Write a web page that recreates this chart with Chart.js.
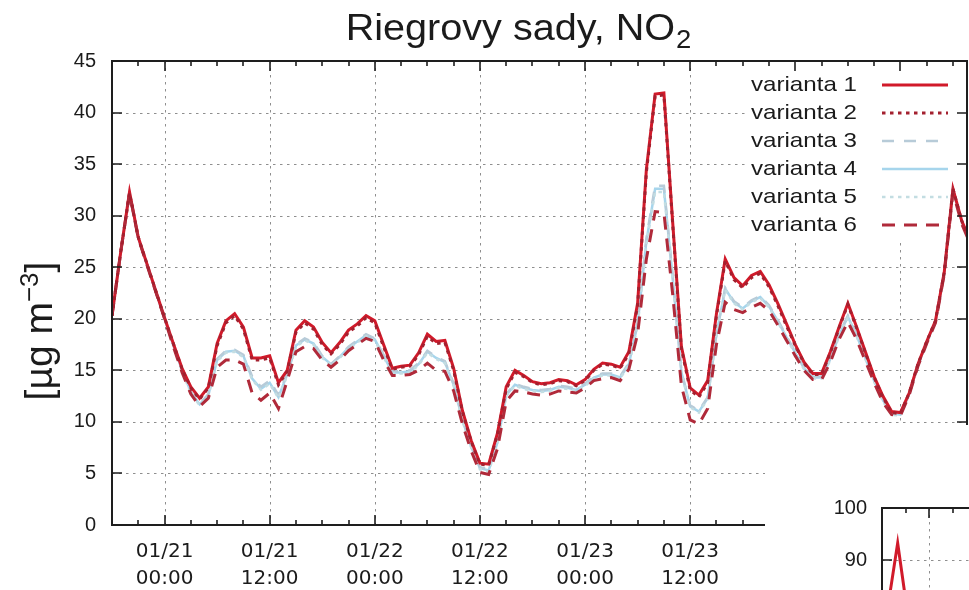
<!DOCTYPE html>
<html>
<head>
<meta charset="utf-8">
<title>Riegrovy sady, NO2</title>
<script src="https://cdn.jsdelivr.net/npm/chart.js@4.4.1/dist/chart.umd.min.js"></script>
<style>
  html, body { margin: 0; padding: 0; background: #fff; overflow: hidden; }
  #wrap { position: relative; width: 969px; height: 590px; overflow: hidden; }
  #main { position: absolute; left: 0; top: 0; width: 980px; height: 590px; }
  #inset { position: absolute; left: 765px; top: 425px; width: 235px; height: 665px; background: #fff; }
</style>
</head>
<body>
<div id="wrap">
  <div id="main"><canvas id="mainChart"></canvas></div>
  <div id="inset"><canvas id="insetChart"></canvas></div>
</div>
<script>
// hours counted from 01/20 18:00
const tickHours = [6, 18, 30, 42, 54, 66, 78, 90];
const tickLabels = [
  ['01/21', '00:00'], ['01/21', '12:00'], ['01/22', '00:00'], ['01/22', '12:00'],
  ['01/23', '00:00'], ['01/23', '12:00'], ['01/24', '00:00'], ['01/24', '12:00']
];
const seriesNames = ['varianta 1', 'varianta 2', 'varianta 3', 'varianta 4', 'varianta 5', 'varianta 6'];

const varianta1 = [
  20.3, 26.5, 32.3, 27.9, 25.3, 22.7, 20.1, 17.6, 15.2, 13.4,
  12.3, 13.4, 17.6, 19.8, 20.5, 19.2, 16.2, 16.2, 16.4, 13.8,
  15.0, 18.9, 19.8, 19.2, 17.7, 16.7, 17.7, 18.9, 19.5, 20.3,
  19.8, 17.5, 15.2, 15.4, 15.5, 16.7, 18.5, 17.8, 17.9, 15.2,
  11.1, 8.2, 6.0, 5.9, 8.9, 13.4, 15.0, 14.5, 13.9, 13.7,
  13.8, 14.1, 14.0, 13.6, 14.1, 15.1, 15.7, 15.6, 15.3, 16.8,
  21.5, 34.5, 41.8, 41.9, 29.4, 17.3, 13.3, 12.6, 14.0, 20.5,
  25.8, 24.0, 23.2, 24.2, 24.6, 23.3, 21.5, 19.5, 17.5, 15.8,
  14.7, 14.7, 16.8, 19.2, 21.5, 19.2, 16.8, 14.4, 12.5, 11.0,
  10.9, 12.8, 15.6, 17.8, 19.8, 24.5, 32.6, 29.5, 27.5
];
const varianta2 = [
  20.3, 26.5, 32.2, 27.9, 25.3, 22.7, 20.1, 17.6, 15.1, 13.3,
  12.2, 13.3, 17.4, 19.6, 20.3, 19.0, 16.0, 16.0, 16.2, 13.6,
  14.9, 18.7, 19.6, 19.0, 17.5, 16.6, 17.5, 18.7, 19.3, 20.1,
  19.6, 17.3, 15.1, 15.3, 15.4, 16.5, 18.3, 17.6, 17.7, 15.0,
  11.0, 8.1, 5.9, 5.8, 8.8, 13.2, 14.8, 14.4, 13.8, 13.6,
  13.7, 14.0, 13.9, 13.5, 14.0, 15.0, 15.6, 15.5, 15.2, 16.6,
  21.3, 34.2, 41.6, 41.7, 29.2, 17.1, 13.1, 12.4, 13.8, 20.3,
  25.6, 23.8, 23.0, 24.0, 24.4, 23.1, 21.3, 19.3, 17.4, 15.7,
  14.6, 14.6, 16.7, 19.1, 21.4, 19.1, 16.7, 14.3, 12.4, 10.9,
  10.8, 12.8, 15.6, 17.8, 19.8, 24.5, 32.6, 29.5, 27.5
];
const varianta3 = [
  20.3, 26.5, 32.2, 27.8, 25.2, 22.6, 20.0, 17.4, 15.0, 12.9,
  11.7, 12.7, 16.1, 16.9, 17.0, 16.5, 14.4, 13.4, 14.0, 12.6,
  14.7, 17.5, 18.1, 17.7, 16.4, 15.6, 16.4, 17.3, 17.9, 18.5,
  18.1, 16.5, 14.9, 14.9, 15.0, 15.7, 16.9, 16.3, 15.9, 13.7,
  10.3, 7.7, 5.6, 5.4, 8.1, 12.7, 13.7, 13.4, 13.2, 13.1,
  13.2, 13.5, 13.4, 13.2, 13.7, 14.4, 14.7, 14.7, 14.4, 15.7,
  19.7, 27.8, 32.9, 32.9, 24.2, 14.9, 11.6, 11.1, 12.4, 18.6,
  23.0, 21.7, 21.1, 21.8, 22.2, 21.3, 19.9, 18.3, 16.8, 15.3,
  14.4, 14.4, 16.2, 18.5, 20.3, 18.5, 16.3, 14.1, 12.2, 10.9,
  10.8, 12.7, 15.5, 17.7, 19.7, 24.4, 32.5, 29.4, 27.4
];
const varianta4 = [
  20.3, 26.5, 32.2, 27.8, 25.2, 22.6, 20.0, 17.4, 15.0, 12.9,
  11.7, 12.6, 16.0, 16.8, 16.9, 16.4, 14.2, 13.2, 13.8, 12.4,
  14.6, 17.4, 18.0, 17.6, 16.3, 15.6, 16.3, 17.2, 17.8, 18.4,
  18.0, 16.4, 14.8, 14.8, 14.9, 15.6, 16.8, 16.2, 15.8, 13.6,
  10.2, 7.6, 5.5, 5.3, 8.0, 12.6, 13.6, 13.3, 13.1, 13.0,
  13.1, 13.4, 13.3, 13.1, 13.6, 14.3, 14.6, 14.6, 14.3, 15.6,
  19.5, 27.5, 32.6, 32.6, 24.0, 14.8, 11.5, 11.0, 12.3, 18.5,
  22.9, 21.6, 21.0, 21.7, 22.1, 21.2, 19.8, 18.2, 16.7, 15.2,
  14.3, 14.3, 16.1, 18.4, 20.2, 18.4, 16.2, 14.0, 12.1, 10.8,
  10.7, 12.7, 15.5, 17.7, 19.7, 24.4, 32.5, 29.4, 27.4
];
const varianta5 = [
  20.3, 26.5, 32.2, 27.8, 25.2, 22.6, 20.0, 17.4, 14.9, 12.8,
  11.6, 12.5, 15.9, 16.7, 16.8, 16.3, 14.1, 13.1, 13.7, 12.3,
  14.5, 17.3, 17.9, 17.5, 16.2, 15.5, 16.2, 17.1, 17.7, 18.3,
  17.9, 16.3, 14.7, 14.7, 14.8, 15.5, 16.7, 16.1, 15.7, 13.5,
  10.1, 7.5, 5.4, 5.2, 7.9, 12.5, 13.5, 13.2, 13.0, 12.9,
  13.0, 13.3, 13.2, 13.0, 13.5, 14.2, 14.5, 14.5, 14.2, 15.5,
  19.3, 27.2, 32.3, 32.3, 23.8, 14.7, 11.4, 10.9, 12.2, 18.4,
  22.8, 21.5, 20.9, 21.6, 22.0, 21.1, 19.7, 18.1, 16.6, 15.1,
  14.2, 14.2, 16.0, 18.3, 20.1, 18.3, 16.1, 13.9, 12.0, 10.7,
  10.6, 12.6, 15.4, 17.6, 19.6, 24.3, 32.4, 29.3, 27.3
];
const varianta6 = [
  20.3, 26.5, 32.2, 27.8, 25.2, 22.6, 20.0, 17.3, 14.8, 12.7,
  11.5, 12.3, 15.3, 16.0, 16.0, 15.6, 12.8, 12.1, 12.8, 11.3,
  14.0, 16.8, 17.3, 17.1, 16.0, 15.3, 16.0, 16.9, 17.5, 18.1,
  17.8, 16.0, 14.5, 14.5, 14.6, 15.0, 15.7, 15.0, 14.9, 13.0,
  9.8, 7.2, 5.1, 4.9, 7.4, 12.0, 13.0, 12.9, 12.7, 12.6,
  12.7, 13.0, 12.9, 12.8, 13.3, 14.0, 14.2, 14.3, 14.0, 15.1,
  18.5, 25.8, 30.4, 30.3, 22.4, 13.5, 10.2, 9.8, 11.3, 17.5,
  21.6, 20.9, 20.6, 21.1, 21.5, 20.8, 19.4, 17.9, 16.4, 15.0,
  14.1, 14.1, 15.8, 18.0, 19.7, 18.0, 15.9, 13.8, 11.9, 10.7,
  10.6, 12.6, 15.4, 17.6, 19.6, 24.3, 32.3, 29.2, 27.2
];
// neighbouring panel (only its top-left corner is shown)
const insetValues = [70, 83.5, 93.3, 82.6, 74, 67, 61, 57, 53, 51, 49, 48, 50, 54];

const hours = varianta1.map((_, i) => i);
const insetHours = insetValues.map((_, i) => i);

const lineStyles = [
  { color: '#d11a2a', dash: [], width: 3, order: 3 },
  { color: '#a3202f', dash: [3.5, 4.5], width: 3, order: 1 },
  { color: '#b7cbd8', dash: [12, 10], width: 2.5, order: 5 },
  { color: '#a6d5ec', dash: [], width: 2.5, order: 6 },
  { color: '#c3dde2', dash: [3.5, 4.5], width: 2.5, order: 4 },
  { color: '#b02a3a', dash: [13, 9], width: 3, order: 2 }
];
const allSeries = [varianta1, varianta2, varianta3, varianta4, varianta5, varianta6];

const TEXT = '#1b1b1b';
const X_FONT = { family: '"DejaVu Sans", sans-serif', size: 20, lineHeight: 1.35 };
const Y_FONT = { family: '"Liberation Sans", Arial, sans-serif', size: 20 };
const SX = 1.1; // text looks a bit wide in the original figure

function stretchedText(ctx, text, x, y, sx) {
  ctx.save();
  ctx.translate(x, y);
  ctx.scale(sx || SX, 1);
  ctx.fillText(text, 0, 0);
  ctx.restore();
}

// dotted grid under the curves
const gridPlugin = {
  id: 'dotGrid',
  beforeDatasetsDraw(chart, args, opts) {
    const { ctx, chartArea: a, scales: { x, y } } = chart;
    ctx.save();
    ctx.beginPath();
    ctx.rect(a.left, a.top, a.right - a.left, a.bottom - a.top);
    ctx.clip();
    ctx.strokeStyle = '#8e8e8e';
    ctx.lineWidth = 1;
    ctx.setLineDash([2.5, 4.5]);
    ctx.beginPath();
    opts.xMajor.forEach(h => {
      if (h <= x.min || h >= x.max) return;
      const px = Math.round(x.getPixelForValue(h)) + 0.5;
      ctx.moveTo(px, a.top);
      ctx.lineTo(px, a.bottom);
    });
    y.ticks.forEach(t => {
      if (t.value <= y.min || t.value >= y.max) return;
      const py = Math.round(y.getPixelForValue(t.value)) + 0.5;
      ctx.moveTo(a.left, py);
      ctx.lineTo(a.right, py);
    });
    ctx.stroke();
    ctx.restore();
  }
};

// border with inward ticks on all four sides
const framePlugin = {
  id: 'frame',
  afterDatasetsDraw(chart, args, opts) {
    const { ctx, chartArea: a, scales: { x, y } } = chart;
    ctx.save();
    ctx.strokeStyle = '#1e1e1e';
    ctx.lineWidth = 2;
    ctx.setLineDash([]);
    ctx.strokeRect(a.left, a.top, a.right - a.left, a.bottom - a.top);
    ctx.lineWidth = 1.6;
    ctx.beginPath();
    for (let h = 0; h <= x.max; h += opts.xStep) {
      const len = opts.xMajor.includes(h) ? 10 : 5;
      const px = Math.round(x.getPixelForValue(h));
      ctx.moveTo(px, a.bottom); ctx.lineTo(px, a.bottom - len);
      ctx.moveTo(px, a.top); ctx.lineTo(px, a.top + len);
    }
    y.ticks.forEach(t => {
      const py = Math.round(y.getPixelForValue(t.value));
      ctx.moveTo(a.left, py); ctx.lineTo(a.left + 10, py);
      ctx.moveTo(a.right, py); ctx.lineTo(a.right - 10, py);
    });
    ctx.stroke();
    ctx.restore();
  }
};

// opaque key in the upper right corner
const keyPlugin = {
  id: 'key',
  beforeDatasetsDraw(chart) {
    const { ctx, chartArea: a } = chart;
    ctx.save();
    ctx.fillStyle = '#fff';
    ctx.fillRect(746, a.top + 1, a.right - 747, 240 - a.top);
    ctx.font = '21px "Liberation Sans", Arial, sans-serif';
    ctx.textAlign = 'right';
    ctx.textBaseline = 'middle';
    seriesNames.forEach((name, i) => {
      const yy = 85 + i * 28;
      ctx.fillStyle = TEXT;
      stretchedText(ctx, name, 857, yy, 1.15);
      const st = lineStyles[i];
      ctx.strokeStyle = st.color;
      ctx.lineWidth = st.width;
      ctx.setLineDash(st.dash);
      ctx.beginPath();
      ctx.moveTo(882, yy);
      ctx.lineTo(948, yy);
      ctx.stroke();
    });
    ctx.restore();
  }
};

const stationTitle = 'Riegrovy sady, NO';
const titleSub = '2';
const unitMain = '[\u00b5g m';
const unitSup = '\u22123';
const unitEnd = ']';

const labelPlugin = {
  id: 'labels',
  afterDraw(chart) {
    const ctx = chart.ctx;
    ctx.save();
    ctx.fillStyle = TEXT;
    ctx.textAlign = 'left';
    ctx.textBaseline = 'alphabetic';
    // title
    ctx.font = '36px "Liberation Sans", Arial, sans-serif';
    const w1 = ctx.measureText(stationTitle).width * SX;
    ctx.font = '25px "Liberation Sans", Arial, sans-serif';
    const w2 = ctx.measureText(titleSub).width * SX;
    const x0 = 518 - (w1 + w2) / 2;
    ctx.font = '36px "Liberation Sans", Arial, sans-serif';
    stretchedText(ctx, stationTitle, x0, 40);
    ctx.font = '25px "Liberation Sans", Arial, sans-serif';
    stretchedText(ctx, titleSub, x0 + w1 + 1, 48);

    // y axis unit, rotated
    ctx.translate(52, 331);
    ctx.rotate(-Math.PI / 2);
    ctx.font = '39px "Liberation Sans", Arial, sans-serif';
    const a1 = ctx.measureText(unitMain).width;
    const a3 = ctx.measureText(unitEnd).width;
    ctx.font = '26px "Liberation Sans", Arial, sans-serif';
    const a2 = ctx.measureText(unitSup).width;
    let cx = -(a1 + a2 + a3) / 2;
    ctx.font = '39px "Liberation Sans", Arial, sans-serif';
    ctx.fillText(unitMain, cx, 0);
    cx += a1;
    ctx.font = '26px "Liberation Sans", Arial, sans-serif';
    ctx.fillText(unitSup, cx, -14);
    cx += a2;
    ctx.font = '39px "Liberation Sans", Arial, sans-serif';
    ctx.fillText(unitEnd, cx, 0);
    ctx.restore();
  }
};

function timeTick(v) {
  const i = tickHours.indexOf(v);
  return i < 0 ? '' : tickLabels[i];
}

new Chart(document.getElementById('mainChart'), {
  type: 'line',
  data: {
    labels: hours,
    datasets: allSeries.map((vals, i) => ({
      label: seriesNames[i],
      data: vals,
      borderColor: lineStyles[i].color,
      borderWidth: lineStyles[i].width,
      borderDash: lineStyles[i].dash,
      order: lineStyles[i].order,
      pointRadius: 0,
      tension: 0,
      fill: false
    }))
  },
  options: {
    responsive: true,
    maintainAspectRatio: false,
    animation: false,
    layout: { padding: { top: 61, right: 8, left: 0, bottom: 0 } },
    plugins: {
      legend: { display: false },
      tooltip: { enabled: false },
      dotGrid: { xMajor: tickHours },
      frame: { xMajor: tickHours, xStep: 3 }
    },
    scales: {
      x: {
        type: 'linear', min: 0, max: 97.6,
        grid: { display: false, drawTicks: false }, border: { display: false },
        ticks: {
          stepSize: 3, autoSkip: false, maxRotation: 0, padding: 13,
          font: X_FONT, color: TEXT, callback: timeTick
        },
        afterFit: s => { s.height = 65; }
      },
      y: {
        min: 0, max: 45,
        grid: { display: false, drawTicks: false }, border: { display: false },
        ticks: { stepSize: 5, padding: 16, font: Y_FONT, color: TEXT },
        afterFit: s => { s.width = 112; }
      }
    }
  },
  plugins: [gridPlugin, keyPlugin, framePlugin, labelPlugin]
});

new Chart(document.getElementById('insetChart'), {
  type: 'line',
  data: {
    labels: insetHours,
    datasets: [{
      label: seriesNames[0],
      data: insetValues,
      borderColor: lineStyles[0].color,
      borderWidth: 3,
      pointRadius: 0,
      tension: 0,
      fill: false
    }]
  },
  options: {
    responsive: true,
    maintainAspectRatio: false,
    animation: false,
    layout: { padding: { top: 83, right: 0, left: 0, bottom: 0 } },
    plugins: {
      legend: { display: false },
      tooltip: { enabled: false },
      dotGrid: { xMajor: tickHours },
      frame: { xMajor: tickHours, xStep: 3 }
    },
    scales: {
      x: {
        type: 'linear', min: 0, max: 13.4,
        grid: { display: false, drawTicks: false }, border: { display: false },
        ticks: {
          stepSize: 3, autoSkip: false, maxRotation: 0, padding: 13,
          font: X_FONT, color: TEXT, callback: timeTick
        },
        afterFit: s => { s.height = 60; }
      },
      y: {
        min: 0, max: 100,
        grid: { display: false, drawTicks: false }, border: { display: false },
        ticks: { stepSize: 10, padding: 15, font: Y_FONT, color: TEXT },
        afterFit: s => { s.width = 117; }
      }
    }
  },
  plugins: [gridPlugin, framePlugin]
});
</script>
</body>
</html>
